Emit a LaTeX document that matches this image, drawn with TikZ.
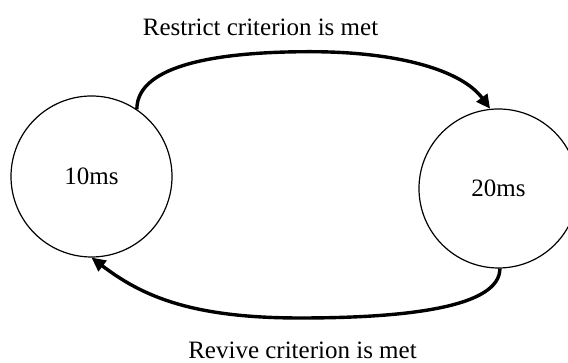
\documentclass[tikz,border=0pt]{standalone}
\usepackage{fontspec}
\setmainfont{Liberation Serif}
\usetikzlibrary{arrows.meta}
\tikzset{
  state/.style={draw, circle, line width=1.2pt, inner sep=0pt, font=\fontsize{25}{30}\selectfont},
  conn/.style={line width=3.4pt, -{Triangle[length=14pt,width=13pt]}},
  lbl/.style={font=\fontsize{25}{30}\selectfont, inner sep=0pt, anchor=base}
}
\begin{document}
\begin{tikzpicture}[x=1pt,y=1pt]
\useasboundingbox (0,0) rectangle (568,363);
\node[state, minimum size=161pt] (A) at (91.5,186.5) {10ms};
\node[state, minimum size=159pt] (B) at (498.5,174.5) {20ms};
\coordinate (top) at (310,311.3);
\coordinate (bot) at (300,45);
\draw[conn] (A.56) .. controls +(0,45) and +(-90,0) .. (top)
  .. controls +(90,0) and +(-28,38) .. (B.96);
\draw[conn] (B.271.5) .. controls +(0,-38) and +(110,0) .. (bot)
  .. controls +(-110,0) and +(50,-38) .. (A.270);
\node[lbl] (t1) at (260.5,327.5) {Restrict criterion is met};
\node[lbl] (t2) at (302.5,4.5) {Revive criterion is met};
\end{tikzpicture}
\end{document}
